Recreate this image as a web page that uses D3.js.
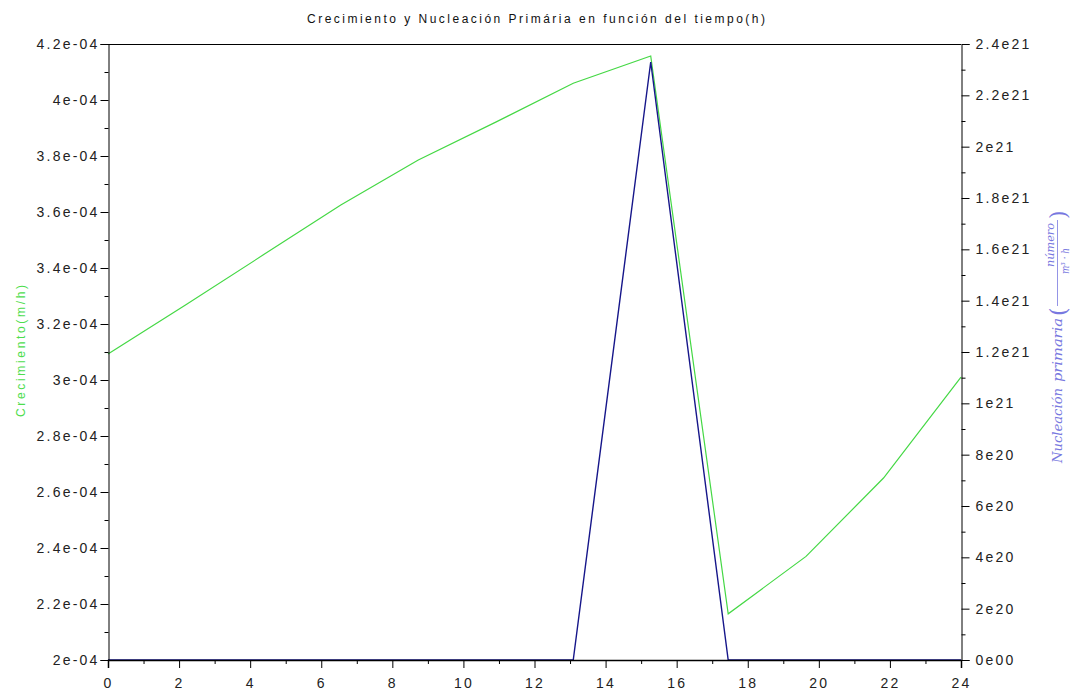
<!DOCTYPE html>
<html><head><meta charset="utf-8">
<script src="https://cdn.jsdelivr.net/npm/d3@7"></script>
<style>
body{margin:0;background:#fff;}
svg{display:block;}
</style></head>
<body>
<svg id="chart" width="1078" height="693"></svg>
<script>
const tiempo = [0, 2.18, 4.36, 6.55, 8.73, 10.91, 13.09, 15.27, 17.45, 19.64, 21.82, 24];
const crecimiento = [3.093e-4, 3.268e-4, 3.446e-4, 3.625e-4, 3.786e-4, 3.921e-4, 4.06e-4, 4.157e-4, 2.165e-4, 2.37e-4, 2.65e-4, 3.01e-4];
const nucleacion = [0, 0, 0, 0, 0, 0, 0, 2.33e21, 0, 0, 0, 0];
const xTicks = [0, 2, 4, 6, 8, 10, 12, 14, 16, 18, 20, 22, 24];
const leftTicks = [2e-4, 2.2e-4, 2.4e-4, 2.6e-4, 2.8e-4, 3e-4, 3.2e-4, 3.4e-4, 3.6e-4, 3.8e-4, 4e-4, 4.2e-4];
const leftTickLabels = ["2e-04","2.2e-04","2.4e-04","2.6e-04","2.8e-04","3e-04","3.2e-04","3.4e-04","3.6e-04","3.8e-04","4e-04","4.2e-04"];
const rightTicks = [0, 2e20, 4e20, 6e20, 8e20, 1e21, 1.2e21, 1.4e21, 1.6e21, 1.8e21, 2e21, 2.2e21, 2.4e21];
const rightTickLabels = ["0e00","2e20","4e20","6e20","8e20","1e21","1.2e21","1.4e21","1.6e21","1.8e21","2e21","2.2e21","2.4e21"];

const L = 108, R = 961, T = 44, B = 660;
const SANS = "'Liberation Sans',Arial,sans-serif";
const SERIF = "'DejaVu Serif','Liberation Serif',serif";
const svg = d3.select("#chart");
const x = d3.scaleLinear().domain([0, 24]).range([L, R]);
const yL = d3.scaleLinear().domain([2e-4, 4.2e-4]).range([B, T]);
const yR = d3.scaleLinear().domain([0, 2.4e21]).range([B, T]);

// data lines (drawn first so axes cover zero segments)
const lineG = d3.line().x((d, i) => x(tiempo[i])).y(d => yL(d));
const lineN = d3.line().x((d, i) => x(tiempo[i])).y(d => yR(d));
svg.append("path").datum(crecimiento).attr("d", lineG).attr("fill", "none").attr("stroke", "#45d845").attr("stroke-width", 1.2);
svg.append("path").datum(nucleacion).attr("d", lineN).attr("fill", "none").attr("stroke", "#16168a").attr("stroke-width", 1.4);

// frame top
svg.append("line").attr("x1", L).attr("x2", R).attr("y1", T + 0.5).attr("y2", T + 0.5).attr("stroke", "#000");

const xMinor = d3.range(1, 24, 2);
const lMinor = d3.range(0, 11).map(i => 2.1e-4 + i * 0.2e-4);
const rMinor = d3.range(0, 12).map(i => 1e20 + i * 2e20);

// bottom axis
const gx = svg.append("g").attr("transform", `translate(0,${B})`)
  .call(d3.axisBottom(x).tickValues(xTicks).tickFormat(d3.format("d")).tickSizeOuter(0).tickSize(8).tickPadding(10));
gx.select(".domain").attr("stroke-width", 1.5);
gx.append("g").selectAll("line").data(xMinor).join("line")
  .attr("x1", d => x(d) + 0.5).attr("x2", d => x(d) + 0.5).attr("y1", 0).attr("y2", 4).attr("stroke", "#000");

// left axis
const gl = svg.append("g").attr("transform", `translate(${L + 0.5},0)`)
  .call(d3.axisLeft(yL).tickValues(leftTicks).tickFormat((d, i) => leftTickLabels[i]).tickSizeOuter(0).tickSize(8).tickPadding(1));
gl.append("g").selectAll("line").data(lMinor).join("line")
  .attr("y1", d => yL(d) + 0.5).attr("y2", d => yL(d) + 0.5).attr("x1", 0).attr("x2", -4).attr("stroke", "#000");

// right axis
const gr = svg.append("g").attr("transform", `translate(${R + 0.5},0)`)
  .call(d3.axisRight(yR).tickValues(rightTicks).tickFormat((d, i) => rightTickLabels[i]).tickSizeOuter(0).tickSize(8).tickPadding(6));
gr.append("g").selectAll("line").data(rMinor).join("line")
  .attr("y1", d => yR(d) + 0.5).attr("y2", d => yR(d) + 0.5).attr("x1", 0).attr("x2", 4).attr("stroke", "#000");

svg.selectAll(".tick text")
  .style("font-size", "14px").style("font-family", SANS)
  .attr("fill", "#222").style("letter-spacing", "2.2px");
svg.selectAll(".domain").attr("stroke", "#000");

// title
svg.append("text").attr("x", 307).attr("y", 23)
  .style("font-size", "12px").style("font-family", SANS).attr("fill", "#111")
  .attr("textLength", 458).attr("lengthAdjust", "spacing")
  .text("Crecimiento y Nucleación Primária en función del tiempo(h)");

// left label
svg.append("text").attr("transform", "translate(25,417) rotate(-90)")
  .style("font-size", "12px").style("font-family", SANS).attr("fill", "#4ddd4d")
  .attr("textLength", 132).attr("lengthAdjust", "spacing")
  .text("Crecimiento(m/h)");

// right label
const lab = "#7878e0";
const rl = svg.append("g").attr("transform", "translate(1062,466) rotate(-90)").attr("fill", lab);
function it(sel, size) { return sel.style("font-family", SERIF).style("font-style", "italic").style("font-size", size + "px"); }
it(rl.append("text"), 12).attr("x", 3).attr("y", 0).attr("textLength", 75).attr("lengthAdjust", "spacingAndGlyphs").text("Nucleación");
it(rl.append("text"), 12).attr("x", 84).attr("y", 0).attr("textLength", 64).attr("lengthAdjust", "spacingAndGlyphs").text("primaria");
it(rl.append("text"), 22).attr("x", 150).attr("y", 4).style("font-style", "normal").style("font-weight", "200").text("(");
it(rl.append("text"), 11).attr("x", 221).attr("y", -8).attr("text-anchor", "middle").attr("textLength", 44).attr("lengthAdjust", "spacingAndGlyphs").text("número");
rl.append("line").attr("x1", 160).attr("x2", 246).attr("y1", -4.5).attr("y2", -4.5).attr("stroke", lab).attr("stroke-width", 0.8);
it(rl.append("text"), 11).attr("x", 205).attr("y", 7).attr("text-anchor", "middle").attr("textLength", 26).attr("lengthAdjust", "spacingAndGlyphs").text("m³ · h");
it(rl.append("text"), 22).attr("x", 247).attr("y", 4).style("font-style", "normal").text(")");
</script>
</body></html>
